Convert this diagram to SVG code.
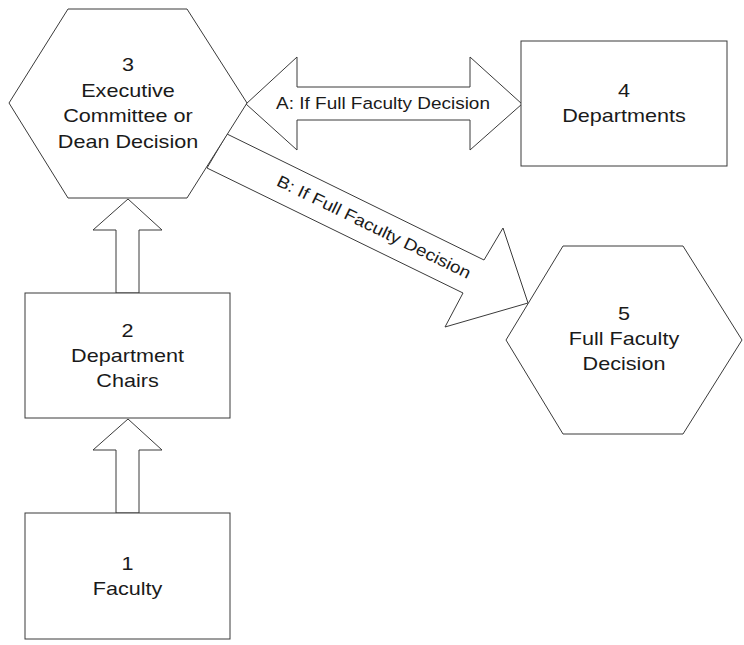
<svg xmlns="http://www.w3.org/2000/svg" width="744" height="645" viewBox="0 0 744 645">
<style>
.shape{fill:#fff;stroke:#3a3a3a;stroke-width:1}
.t{font-family:"Liberation Sans",Arial,sans-serif;font-size:18px;fill:#1a1a1a;text-anchor:middle}
.lbl{font-family:"Liberation Sans",Arial,sans-serif;font-size:16.5px;fill:#1a1a1a;text-anchor:middle}
</style>
<rect width="744" height="645" fill="#fff"/>
<g id="connectors">
<polygon class="shape" points="128,199 162,230 139,230 139,293 116,293 116,230 93,230"/>
<polygon class="shape" points="128,419 162,450 139,450 139,513 116,513 116,450 93,450"/>
<polygon class="shape" points="246,104 297,57 297,87 470,87 470,57 522,104 470,150 470,120 297,120 297,150"/>
<polygon class="shape" points="227,134 484,260 503,228 528,303 445,327 463,293 207,168"/>
<text class="lbl" transform="translate(383,109) scale(1.15,1)">A: If Full Faculty Decision</text>
<text class="lbl" transform="translate(371.5,232) rotate(26.1) scale(1.15,1)">B: If Full Faculty Decision</text>
</g>
<g id="node3">
<polygon class="shape" points="9,103 68,9 187,9 247,103 187,198 68,198"/>
<g transform="translate(128,0) scale(1.2,1)">
<text class="t" x="0" y="71">3</text>
<text class="t" x="0" y="97">Executive</text>
<text class="t" x="0" y="122">Committee or</text>
<text class="t" x="0" y="148">Dean Decision</text>
</g>
</g>
<g id="node2">
<rect class="shape" x="25" y="293" width="205" height="125"/>
<g transform="translate(127.5,0) scale(1.2,1)">
<text class="t" x="0" y="337">2</text>
<text class="t" x="0" y="362">Department</text>
<text class="t" x="0" y="387">Chairs</text>
</g>
</g>
<g id="node1">
<rect class="shape" x="25" y="513" width="205" height="126"/>
<g transform="translate(127.5,0) scale(1.2,1)">
<text class="t" x="0" y="570">1</text>
<text class="t" x="0" y="595">Faculty</text>
</g>
</g>
<g id="node4">
<rect class="shape" x="521" y="41" width="206" height="125"/>
<g transform="translate(624,0) scale(1.2,1)">
<text class="t" x="0" y="97">4</text>
<text class="t" x="0" y="122">Departments</text>
</g>
</g>
<g id="node5">
<polygon class="shape" points="506,340 563,246 683,246 742,340 683,434 563,434"/>
<g transform="translate(624,0) scale(1.2,1)">
<text class="t" x="0" y="320">5</text>
<text class="t" x="0" y="345">Full Faculty</text>
<text class="t" x="0" y="370">Decision</text>
</g>
</g>
</svg>
